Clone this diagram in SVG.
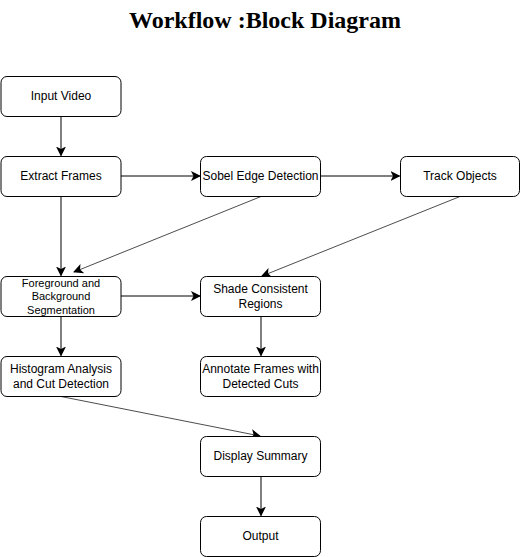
<svg xmlns="http://www.w3.org/2000/svg" width="521" height="557" viewBox="0 0 521 557">
<defs>
<marker id="ah" viewBox="0 0 10 10" refX="9" refY="5" markerWidth="10" markerHeight="10" markerUnits="userSpaceOnUse" orient="auto">
<path d="M0,0 L10,5 L0,10 L2.5,5 Z" fill="#000"/>
</marker>
<style>
.n rect{fill:#fff;stroke:#000;stroke-width:1}
.n text{font-family:"Liberation Sans",Arial,sans-serif;font-size:12px;fill:#000;text-anchor:middle}
.n text.s{font-size:11px}
.c{fill:none;stroke:#000;stroke-width:1;marker-end:url(#ah)}
.g{fill:none;stroke:#4d4d4d;stroke-width:1;marker-end:url(#ah)}
</style>
</defs>
<rect width="521" height="557" fill="#fff"/>
<text x="265" y="28" font-family="'Liberation Serif','Times New Roman',serif" font-size="24" font-weight="bold" text-anchor="middle">Workflow :Block Diagram</text>
<g id="connectors">
<path class="c" d="M61,116.5 V155.5"/>
<path class="c" d="M121,176 H200"/>
<path class="c" d="M321,176 H399.5"/>
<path class="c" d="M61,196.5 V275.5"/>
<path class="g" d="M261,196.5 L74,272"/>
<path class="g" d="M460,196.5 L262,276"/>
<path class="c" d="M121,296 H200"/>
<path class="c" d="M61,316.5 V355.5"/>
<path class="c" d="M261,316.5 V355.5"/>
<path class="g" d="M61,396.5 L260,436"/>
<path class="c" d="M261,476.5 V515.5"/>
</g>
<g id="input-video" class="n"><rect x="1" y="76.5" width="120" height="40" rx="6"/><text x="61" y="100">Input Video</text></g>
<g id="extract-frames" class="n"><rect x="1" y="156.5" width="120" height="40" rx="6"/><text x="61" y="180">Extract Frames</text></g>
<g id="sobel" class="n"><rect x="200.5" y="156.5" width="120" height="40" rx="6"/><text x="260.5" y="180">Sobel Edge Detection</text></g>
<g id="track-objects" class="n"><rect x="400.5" y="156.5" width="119" height="40" rx="6"/><text x="460" y="180">Track Objects</text></g>
<g id="foreground" class="n"><rect x="1" y="276.5" width="120" height="40" rx="6"/><text class="s" x="61" y="287">Foreground and</text><text class="s" x="61" y="300">Background</text><text class="s" x="61" y="314">Segmentation</text></g>
<g id="shade" class="n"><rect x="200.5" y="276.5" width="120" height="40" rx="6"/><text x="260.5" y="292.5">Shade Consistent</text><text x="260.5" y="307.5">Regions</text></g>
<g id="histogram" class="n"><rect x="1" y="356.5" width="120" height="40" rx="6"/><text x="61" y="372.5">Histogram Analysis</text><text x="61" y="387.5">and Cut Detection</text></g>
<g id="annotate" class="n"><rect x="200.5" y="356.5" width="120" height="40" rx="6"/><text x="260.5" y="372.5">Annotate Frames with</text><text x="260.5" y="387.5">Detected Cuts</text></g>
<g id="display-summary" class="n"><rect x="200.5" y="436.5" width="120" height="40" rx="6"/><text x="260.5" y="460">Display Summary</text></g>
<g id="output" class="n"><rect x="200.5" y="516.5" width="120" height="40" rx="6"/><text x="260.5" y="540">Output</text></g>
</svg>
